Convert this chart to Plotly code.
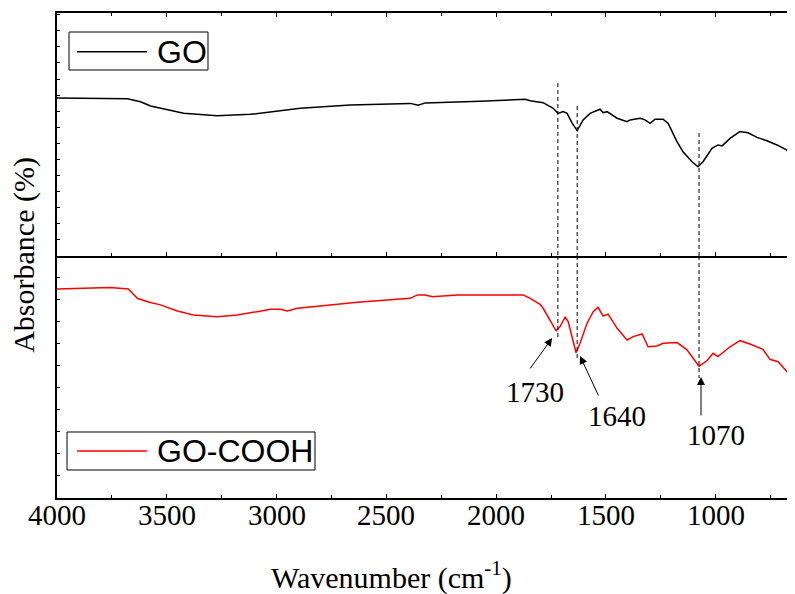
import plotly.graph_objects as go

# ---------------- data ----------------
series_names = ["GO", "GO-COOH"]
series_colors = ["#000000", "#ff0000"]

go_wn = [4000, 3848, 3679, 3620, 3574, 3423, 3271, 3119, 3043, 2968, 2892, 2664, 2391, 2355, 2323,
         2073, 1868, 1845, 1786, 1740, 1718, 1695, 1677, 1654, 1631, 1604, 1572, 1527, 1513, 1495,
         1449, 1404, 1390, 1344, 1322, 1299, 1276, 1240, 1217, 1176, 1149, 1108, 1081, 1058, 1017,
         990, 971, 935, 890, 853, 812, 767, 721, 676, 653, 639]
go_abs = [65.0, 64.8, 64.7, 63.5, 61.7, 58.7, 57.7, 58.3, 59.1, 60.1, 60.8, 62.1, 62.8, 62.0, 63.0,
          63.7, 64.5, 63.9, 63.1, 60.8, 58.7, 59.4, 58.7, 54.7, 51.6, 56.0, 58.7, 60.4, 59.0, 59.4,
          56.7, 55.3, 56.0, 56.7, 56.0, 54.6, 56.3, 56.3, 54.6, 47.0, 42.9, 38.8, 36.7, 38.8, 44.3,
          45.7, 45.3, 48.4, 51.2, 50.7, 48.8, 47.4, 45.7, 43.6, 39.8, 38.8]

cooh_wn = [4000, 3848, 3757, 3675, 3634, 3588, 3529, 3452, 3379, 3270, 3179, 3088, 3028, 2983, 2951,
           2905, 2846, 2632, 2391, 2359, 2323, 2291, 2177, 1877, 1845, 1800, 1786, 1754, 1727, 1709,
           1686, 1672, 1654, 1636, 1618, 1586, 1558, 1536, 1513, 1490, 1449, 1404, 1376, 1335, 1308,
           1267, 1240, 1176, 1131, 1076, 1040, 1012, 990, 935, 890, 844, 785, 753, 716, 662, 639]
cooh_abs = [86.4, 86.6, 87.0, 86.4, 82.5, 81.1, 79.8, 77.3, 75.6, 74.9, 75.6, 77.0, 78.0, 78.0, 77.3,
            78.4, 79.0, 80.9, 82.5, 83.9, 83.9, 83.2, 83.9, 83.9, 82.5, 80.0, 78.4, 73.6, 69.1, 70.8,
            74.7, 72.9, 66.7, 60.0, 63.9, 72.2, 77.0, 78.8, 75.2, 76.0, 70.1, 65.3, 66.7, 67.8, 62.5,
            62.8, 63.9, 64.2, 61.2, 54.5, 56.7, 59.8, 58.4, 62.5, 65.0, 63.6, 61.4, 57.3, 56.3, 50.8, 50.4]

# peak markers
peak_labels = ["1730", "1640", "1070"]
peak_lines_wn = [1719, 1631, 1076]
peak_top_ends = [71.2, 61.7, 50.6]      # top panel units
peak_bottom_ends = [66.1, 57.0, 49.6]   # bottom panel units
arrow_head_wn = [1745, 1618, 1067]
arrow_head_y = [66.1, 58.7, 50.0]
arrow_tail_wn = [1850, 1531, 1067]
arrow_tail_y = [52.9, 41.7, 33.5]
label_wn = [1822, 1449, 999]
label_y = [43.8, 33.9, 26.0]

x_ticks = [4000, 3500, 3000, 2500, 2000, 1500, 1000]
x_tick_labels = ["4000", "3500", "3000", "2500", "2000", "1500", "1000"]
x_range = [4000, 639]

SERIF = "Liberation Serif, Times New Roman, serif"
SANS = "Liberation Sans, Arial, sans-serif"

fig = go.Figure()
fig.add_trace(go.Scatter(x=go_wn, y=go_abs, mode="lines", name=series_names[0],
                         line=dict(color=series_colors[0], width=1.5),
                         xaxis="x2", yaxis="y2", showlegend=False))
fig.add_trace(go.Scatter(x=cooh_wn, y=cooh_abs, mode="lines", name=series_names[1],
                         line=dict(color=series_colors[1], width=1.5),
                         xaxis="x", yaxis="y", showlegend=False))

axis_common = dict(showline=True, linecolor="black", linewidth=2, showgrid=False,
                   zeroline=False, ticks="inside", tickcolor="black")
minor_x = dict(dtick=250, tick0=0, ticks="inside", ticklen=3, tickcolor="black")

# page body has an 8px margin: the figure is sized so the plot reaches the window edge
fig.update_layout(
    width=787, height=586,
    margin=dict(l=49, r=0, t=5, b=96),
    plot_bgcolor="white", paper_bgcolor="white",
    xaxis=dict(**axis_common, range=x_range, tickvals=x_ticks, ticklen=4, tickwidth=1,
               mirror=False, anchor="y", minor=minor_x, showticklabels=False),
    yaxis=dict(**axis_common, domain=[0, 0.499], range=[0, 100], tick0=0, dtick=100 / 11,
               ticklen=3, showticklabels=False, anchor="x"),
    xaxis2=dict(**axis_common, range=x_range, tickvals=x_ticks, ticklen=4, mirror="ticks",
                anchor="y2", matches="x", showticklabels=False, minor=minor_x),
    yaxis2=dict(**axis_common, domain=[0.499, 1], range=[0, 100], tick0=0, dtick=6.62,
                ticklen=3, showticklabels=False, anchor="x2"),
)

shapes = []
annotations = []

# x tick labels, placed just under the axis line
for tv, tl in zip(x_ticks, x_tick_labels):
    annotations.append(dict(x=tv, y=-0.035, xref="x", yref="paper", text=tl, showarrow=False,
                            xanchor="center", yanchor="middle",
                            font=dict(family=SERIF, size=29, color="black")))

dash_style = dict(color="black", width=1, dash="4px,3px")
for wn, t_end, b_end in zip(peak_lines_wn, peak_top_ends, peak_bottom_ends):
    shapes.append(dict(type="line", xref="x2", yref="y2", x0=wn, x1=wn, y0=t_end, y1=0,
                       line=dash_style))
    shapes.append(dict(type="line", xref="x", yref="y", x0=wn, x1=wn, y0=100, y1=b_end,
                       line=dash_style))

for i, lab in enumerate(peak_labels):
    annotations.append(dict(x=arrow_head_wn[i], y=arrow_head_y[i], xref="x", yref="y",
                            ax=arrow_tail_wn[i], ay=arrow_tail_y[i], axref="x", ayref="y",
                            text="", showarrow=True, arrowhead=2, arrowsize=1.6,
                            arrowwidth=1, arrowcolor="black"))
    annotations.append(dict(x=label_wn[i], y=label_y[i], xref="x", yref="y", text=lab,
                            showarrow=False, xanchor="center", yanchor="middle",
                            font=dict(family=SERIF, size=29, color="black")))

# axis titles
annotations.append(dict(x=0.4526, y=-0.1588, xref="paper", yref="paper",
                        text="Wavenumber (cm<sup>-1</sup>)", showarrow=False,
                        xanchor="center", yanchor="middle",
                        font=dict(family=SERIF, size=30, color="black")))
annotations.append(dict(x=-0.045, y=0.501, xref="paper", yref="paper", text="Absorbance (%)",
                        textangle=-90, showarrow=False, xanchor="center", yanchor="middle",
                        font=dict(family=SERIF, size=30, color="black")))

# custom legends (boxed, one per panel)
legend_boxes = [dict(x0=0.0163, x1=0.2046, y0=0.8825, y1=0.9608, ly=0.9202),
                dict(x0=0.0136, x1=0.3496, y0=0.0577, y1=0.1361, ly=0.0969)]
for name, color, box in zip(series_names, series_colors, legend_boxes):
    shapes.append(dict(type="rect", xref="paper", yref="paper", x0=box["x0"], x1=box["x1"],
                       y0=box["y0"], y1=box["y1"], line=dict(color="black", width=1),
                       fillcolor="white"))
    shapes.append(dict(type="line", xref="paper", yref="paper", x0=0.0271, x1=0.1220,
                       y0=box["ly"], y1=box["ly"], line=dict(color=color, width=1.5)))
    annotations.append(dict(x=0.1325, y=box["ly"], xref="paper", yref="paper", text=name,
                            showarrow=False, xanchor="left", yanchor="middle",
                            font=dict(family=SANS, size=32, color="black")))

fig.update_layout(shapes=shapes, annotations=annotations)
fig.write_html("out.html")
